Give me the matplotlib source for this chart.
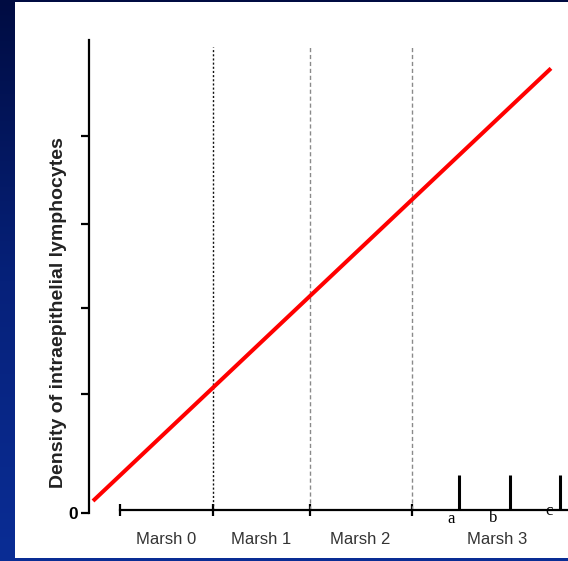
import numpy as np
import matplotlib
matplotlib.use("Agg")
import matplotlib.pyplot as plt
from matplotlib.colors import LinearSegmentedColormap

# ---- data ----
categories = ["Marsh 0", "Marsh 1", "Marsh 2", "Marsh 3"]
stage_bounds = [0.0, 1.0, 2.04, 3.14, 4.82]        # x extent of each Marsh stage
category_label_x = [0.5, 1.52, 2.58, 4.06]
separator_x = [1.0, 2.04, 3.14]
separator_styles = [":", "--", "--"]
separator_colors = ["#111111", "#8a8a8a", "#8a8a8a"]
sub_bars_x = [3.65, 4.19, 4.73]                    # Marsh 3 subdivisions
sub_labels = ["a", "b", "c"]
sub_label_x = [3.56, 4.01, 4.61]
sub_label_y = [-0.07, -0.06, 0.02]
y_ticks = [0.0, 1.38, 2.38, 3.36, 4.38]
y_tick_labels = ["0", "", "", "", ""]
line_x = [-0.29, 4.634]
line_y = [0.14, 5.17]

W, H = 568, 561
fig = plt.figure(figsize=(W / 100, H / 100), dpi=100)

# background gradient
bg = fig.add_axes([0, 0, 1, 1])
cmap = LinearSegmentedColormap.from_list("bg", ["#000c42", "#06217a", "#0a2d95"])
grad = np.linspace(0, 1, 256).reshape(-1, 1)
bg.imshow(grad, aspect="auto", cmap=cmap, extent=[0, 1, 0, 1], origin="upper")
bg.add_patch(plt.Rectangle((15 / W, 1 - 558 / H), 1 - 15 / W, (558 - 2) / H,
                           facecolor="white", edgecolor="none"))
bg.set_xlim(0, 1)
bg.set_ylim(0, 1)
bg.axis("off")

# main axes: left=89px, right=568px, top=40px, bottom=513px
ax = fig.add_axes([89 / W, 1 - 513 / H, (568 - 89) / W, (513 - 40) / H])
ax.patch.set_alpha(0)
ax.set_xlim(-0.333, 4.817)
ax.set_ylim(0, 5.5)

for s in ["top", "right"]:
    ax.spines[s].set_visible(False)
ax.spines["left"].set_linewidth(1.6)
ax.spines["bottom"].set_linewidth(1.6)
ax.spines["bottom"].set_position(("data", 0.035))
ax.spines["bottom"].set_bounds(stage_bounds[0], stage_bounds[-1])

ax.set_yticks(y_ticks)
ax.set_yticklabels(y_tick_labels, fontsize=12.5, fontweight="bold",
                   family=["Liberation Sans", "DejaVu Sans"])
ax.tick_params(axis="y", direction="out", length=6, width=1.6, pad=2)

ax.set_xticks(stage_bounds[:-1])
ax.set_xticklabels([])
ax.tick_params(axis="x", direction="inout", length=8, width=1.6)

# separators
for x, ls, c in zip(separator_x, separator_styles, separator_colors):
    ax.plot([x, x], [0.035, 5.42], linestyle=ls, color=c, linewidth=1.0,
            dashes=(3, 2) if ls == "--" else (1.5, 1.5))

# Marsh 3 sub bars
ax.vlines(sub_bars_x, 0.035, 0.44, color="black", linewidth=2.2)
for lx, ly, lab in zip(sub_label_x, sub_label_y, sub_labels):
    ax.text(lx, ly, lab, ha="center", va="center", fontsize=12,
            family=["Liberation Serif", "DejaVu Serif"], color="black")

# category labels
for cx, cat in zip(category_label_x, categories):
    ax.text(cx, -0.31, cat, ha="center", va="center", fontsize=12,
            family=["Liberation Sans", "DejaVu Sans"], color="#333333")

# red trend line
ax.plot(line_x, line_y, color="#ff0000", linewidth=2.9, solid_capstyle="butt")

ax.set_ylabel("Density of intraepithelial lymphocytes", fontsize=14,
              fontweight="bold", family=["Liberation Sans", "DejaVu Sans"],
              color="#222222")
ax.yaxis.set_label_coords(-22 / (568 - 89), (513 - 313) / (513 - 40))

fig.savefig("out.png", dpi=100)
